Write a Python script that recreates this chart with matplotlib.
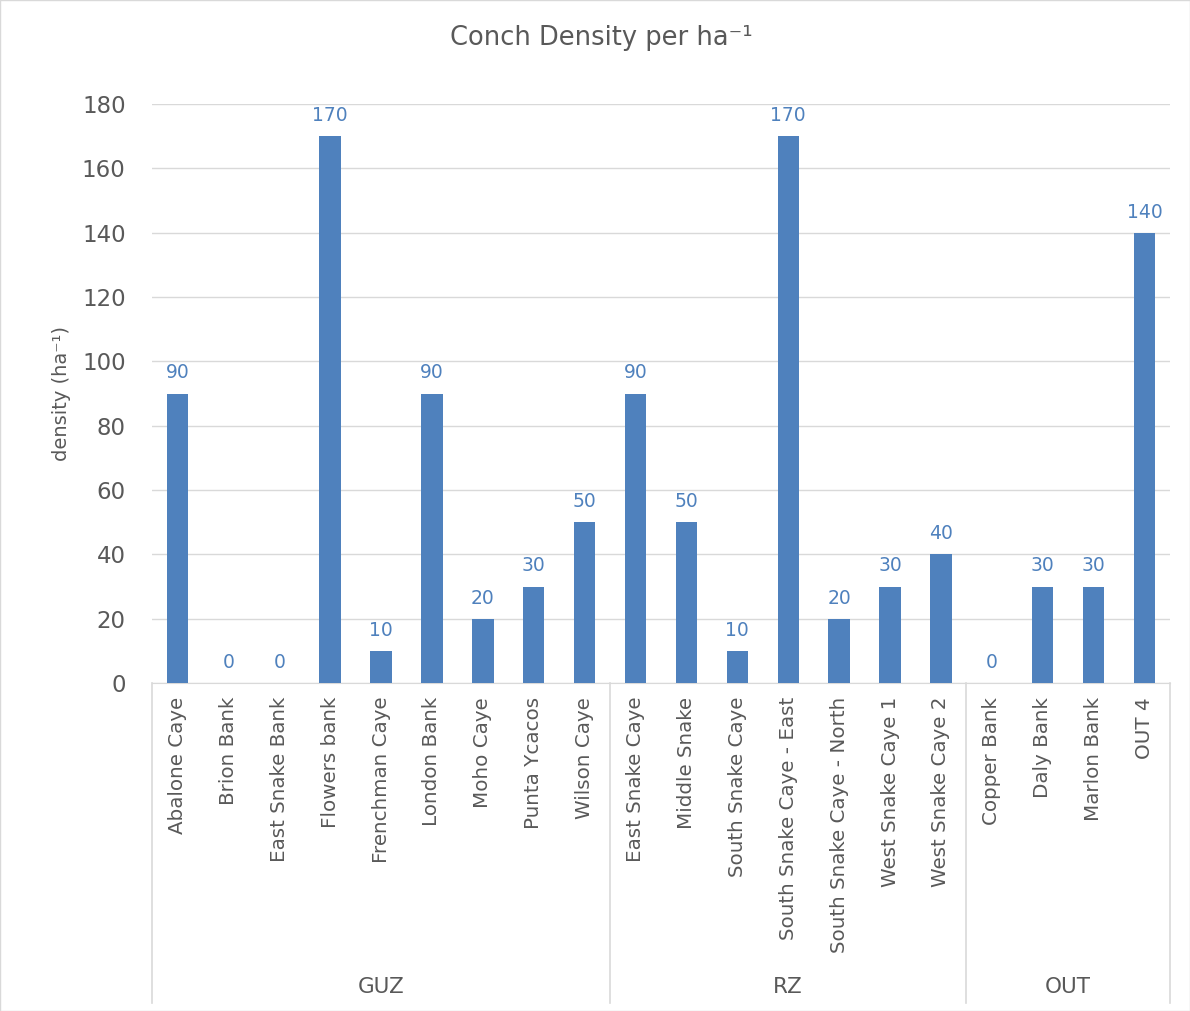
import numpy as np
import matplotlib.pyplot as plt
import matplotlib.transforms as mtransforms

plt.rcParams['font.family'] = ['DejaVu Sans']

sites = ['Abalone Caye', 'Brion Bank', 'East Snake Bank', 'Flowers bank', 'Frenchman Caye',
         'London Bank', 'Moho Caye', 'Punta Ycacos', 'Wilson Caye',
         'East Snake Caye', 'Middle Snake', 'South Snake Caye', 'South Snake Caye - East',
         'South Snake Caye - North', 'West Snake Caye 1', 'West Snake Caye 2',
         'Copper Bank', 'Daly Bank', 'Marlon Bank', 'OUT 4']
density = [90, 0, 0, 170, 10, 90, 20, 30, 50,
           90, 50, 10, 170, 20, 30, 40,
           0, 30, 30, 140]
groups = ['GUZ', 'RZ', 'OUT']
group_sizes = [9, 7, 4]

bar_color = '#4F81BD'
text_color = '#595959'

fig = plt.figure(figsize=(11.9, 10.11), dpi=100)
ax = fig.add_axes([0.1277, 0.3244, 0.8555, 0.5727])

x = np.arange(len(sites))
ax.bar(x, density, width=0.42, color=bar_color, zorder=3)
for xi, v in zip(x, density):
    ax.annotate(str(v), (xi, v), xytext=(0, 8), textcoords='offset points',
                ha='center', va='bottom', color=bar_color, fontsize=13.5)

ax.set_xlim(-0.5, len(sites) - 0.5)
ax.set_ylim(0, 180)
ax.set_yticks(np.arange(0, 181, 20))
ax.grid(axis='y', color='#D9D9D9', linewidth=1, zorder=0)
for s in ['left', 'right', 'top']:
    ax.spines[s].set_visible(False)
ax.spines['bottom'].set_color('#D9D9D9')
ax.tick_params(axis='y', length=0, labelsize=16.5, labelcolor=text_color, pad=19)
ax.set_xticks(x)
ax.set_xticklabels(sites, rotation=90, fontsize=14.3, color=text_color)
ax.tick_params(axis='x', length=0, pad=10)

ax.set_ylabel('density (ha\u207b\u00b9)', fontsize=14, color=text_color, labelpad=8)
fig.text(0.505, 0.962, 'Conch Density per ha\u207b\u00b9', ha='center', va='center',
         fontsize=18.5, color=text_color)

# group separators and labels
trans = mtransforms.blended_transform_factory(ax.transData, ax.transAxes)
edges = np.concatenate([[0], np.cumsum(group_sizes)]) - 0.5
for e in edges:
    ax.plot([e, e], [0, -0.553], transform=trans, color='#D9D9D9', lw=1.2, clip_on=False)
for g, a, b in zip(groups, edges[:-1], edges[1:]):
    ax.text((a + b) / 2, -0.525, g, transform=trans, ha='center', va='center',
            fontsize=15.5, color=text_color)

fig.patches.append(plt.Rectangle((0, 0), 1, 1, transform=fig.transFigure, fill=False,
                                 edgecolor='#D9D9D9', lw=1))

fig.savefig('out.png', dpi=100)
